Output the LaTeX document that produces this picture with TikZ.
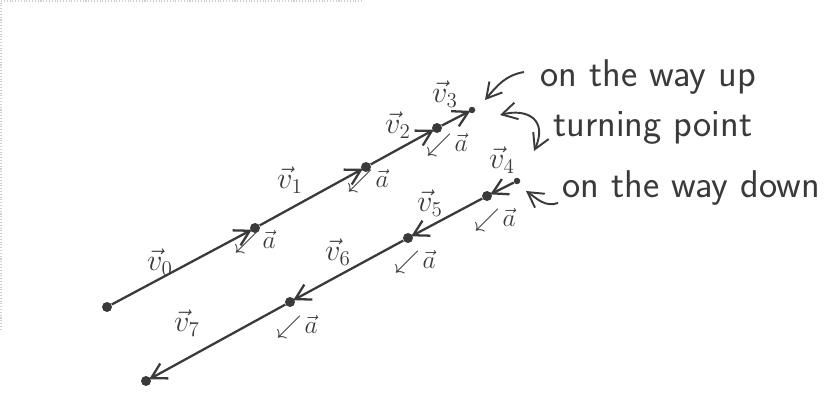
\documentclass[tikz,border=0pt]{standalone}
\usepackage{amsmath,amssymb}
\usepackage{xcolor}
\usepackage{tikz}
\usetikzlibrary{arrows.meta,positioning}
\definecolor{ink}{HTML}{3A3A3A}
\definecolor{scan}{HTML}{CFCFCF}

\begin{document}
\begin{tikzpicture}[x=0.02cm,y=-0.02cm,
  dot/.style={circle,fill=ink,inner sep=0pt,minimum size=2mm},
  tip/.style={circle,fill=ink,inner sep=0pt,minimum size=1.3mm},
  vl/.style={text=ink,font=\LARGE},
  al/.style={text=ink,font=\Large},
  note/.style={text=ink,font=\sffamily\fontsize{22}{26}\selectfont,anchor=base west,inner sep=0pt},
  w/.style={-{Straight Barb[length=3mm,width=3.4mm]},ink,line width=1.3pt,shorten >=-1pt},
  c/.style={-{Straight Barb[length=3mm,width=3.4mm]},ink,line width=1.1pt},
  cc/.style={{Straight Barb[length=3mm,width=3.4mm]}-{Straight Barb[length=3mm,width=3.4mm]},ink,line width=1.1pt}]
  \useasboundingbox (0,0) rectangle (825,402);
  \draw[scan,densely dotted,line width=0.6pt] (362,1) -- (1,1) -- (1,330);
  % on the way up
  \node[dot] (u0) at (107,307) {};
  \node[dot] (u1) at (255,228) {};
  \node[dot] (u2) at (366,167) {};
  \node[dot] (u3) at (437,128) {};
  \node[tip] (u4) at (472,110) {};
  \draw[w] (u0) -- (u1);
  \draw[w] (u1) -- (u2);
  \draw[w] (u2) -- (u3);
  \draw[w] (u3) -- (u4);
  % on the way down
  \node[tip] (d4) at (517,181) {};
  \node[dot] (d5) at (487,196) {};
  \node[dot] (d6) at (408,238) {};
  \node[dot] (d7) at (290,302) {};
  \node[dot] (d8) at (146,381) {};
  \draw[w] (d4) -- (d5);
  \draw[w] (d5) -- (d6);
  \draw[w] (d6) -- (d7);
  \draw[w] (d7) -- (d8);
  % velocities
  \node[vl] (v0) at (160,262) {$\vec v_0$};
  \node[vl] (v1) at (290,180) {$\vec v_1$};
  \node[vl] (v2) at (398,125) {$\vec v_2$};
  \node[vl] (v3) at (445,94) {$\vec v_3$};
  \node[vl] (v4) at (502,160) {$\vec v_4$};
  \node[vl] (v5) at (430,203) {$\vec v_5$};
  \node[vl] (v6) at (338,252) {$\vec v_6$};
  \node[vl] (v7) at (187,323) {$\vec v_7$};
  % accelerations
  \node[al] (a1) at (255,242) {$\swarrow\!\vec a$};
  \node[al] (a2) at (368,181) {$\swarrow\!\vec a$};
  \node[al] (a3) at (447,145) {$\swarrow\!\vec a$};
  \node[al] (a5) at (495,220) {$\swarrow\!\vec a$};
  \node[al] (a6) at (415,262) {$\swarrow\!\vec a$};
  \node[al] (a7) at (297,327) {$\swarrow\!\vec a$};
  % notes
  \node[note] (up) at (540,87) {on the way up};
  \node[note] (turn) at (553,136) {turning point};
  \node[note] (down) at (562,197) {on the way down};
  \coordinate (upa) at (524,72);
  \coordinate (upb) at (485,100);
  \coordinate (ta) at (500,115);
  \coordinate (tb) at (534,151);
  \coordinate (da) at (558,203);
  \coordinate (db) at (526,191);
  \draw[c] (upa) to[out=190,in=50] (upb);
  \draw[cc] (ta) .. controls (528,108) and (548,120) .. (tb);
  \draw[c] (da) to[out=200,in=-35] (db);
\end{tikzpicture}
\end{document}
